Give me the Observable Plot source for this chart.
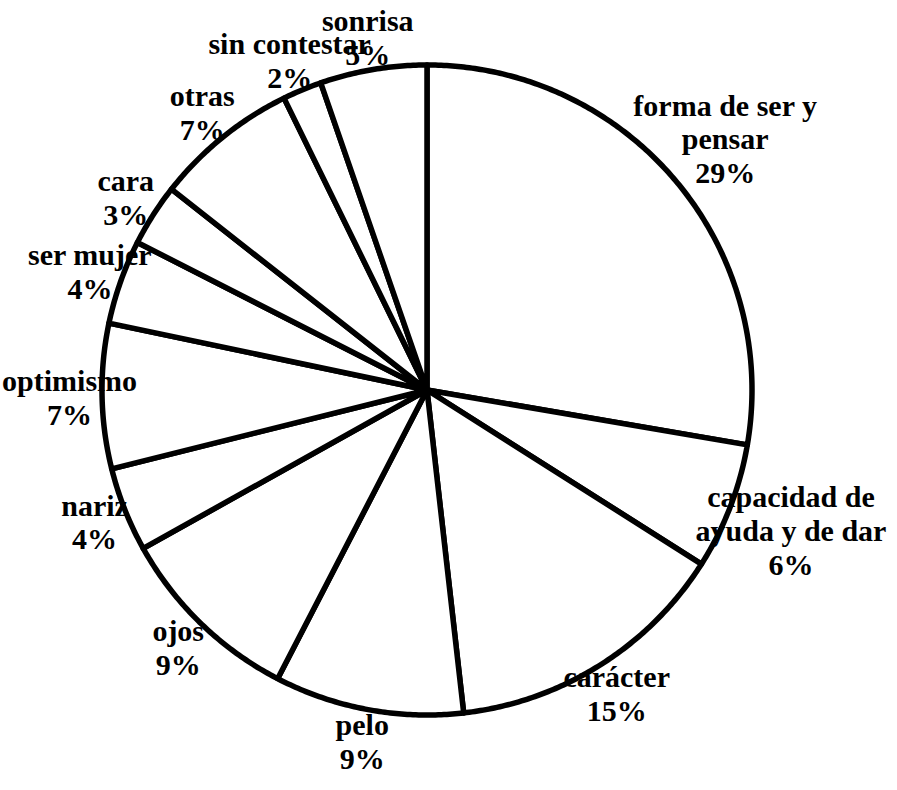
<!DOCTYPE html>
<html>
<head>
<meta charset="utf-8">
<script src="https://cdn.jsdelivr.net/npm/d3@7"></script>
<script src="https://cdn.jsdelivr.net/npm/@observablehq/plot@0.6"></script>
<style>
  html, body { margin: 0; padding: 0; background: #ffffff; }
</style>
</head>
<body>
<div id="chart"></div>
<script>
// Slices, clockwise from 12 o'clock
const categories = [
  "forma de ser y\npensar",
  "capacidad de\nayuda y de dar",
  "carácter",
  "pelo",
  "ojos",
  "nariz",
  "optimismo",
  "ser mujer",
  "cara",
  "otras",
  "sin contestar",
  "sonrisa"
];
// Shares as drawn
const shares = [27.7, 6.3, 14.2, 9.4, 9.3, 4.2, 7.2, 4.2, 3.1, 7.15, 1.95, 5.3];
// Percent labels as printed
const pctLabels = ["29%", "6%", "15%", "9%", "9%", "4%", "7%", "4%", "3%", "7%", "2%", "5%"];

const W = 897, H = 790;
const cx = 426.5, cy = 389.5, R = 325;

const arcs = d3.pie().sort(null).value(d => d)(shares);

// Slice outlines built from the pie angles (unit circle coordinates)
const outline = [];
arcs.forEach((a, i) => {
  const n = Math.max(2, Math.ceil((a.endAngle - a.startAngle) / (Math.PI / 360)));
  outline.push({slice: i, x: 0, y: 0});
  for (let k = 0; k <= n; k++) {
    const t = a.startAngle + (a.endAngle - a.startAngle) * k / n;
    outline.push({slice: i, x: Math.sin(t), y: Math.cos(t)});
  }
  outline.push({slice: i, x: 0, y: 0});
});

// Labels at the slice mid-angle, outside the rim
const labels = arcs.map((a, i) => {
  const text = categories[i] + "\n" + pctLabels[i];
  const lines = text.split("\n").length;
  const r = lines > 2 ? 1.2 : 1.1;
  const m = (a.startAngle + a.endAngle) / 2;
  return {x: r * Math.sin(m), y: r * Math.cos(m), text};
});

const chart = Plot.plot({
  width: W,
  height: H,
  marginLeft: cx - R,
  marginRight: W - (cx + R),
  marginTop: cy - R,
  marginBottom: H - (cy + R),
  style: {background: "#ffffff"},
  x: {domain: [-1, 1], axis: null},
  y: {domain: [-1, 1], axis: null},
  marks: [
    Plot.line(outline, {
      x: "x", y: "y", z: "slice",
      fill: "white", stroke: "black", strokeWidth: 5.5,
      strokeLinejoin: "round", strokeLinecap: "round"
    }),
    Plot.text(labels, {
      x: "x", y: "y", text: "text",
      fontSize: 30, fontFamily: "Liberation Serif", fontWeight: "bold",
      lineHeight: 1.13, fill: "black", textAnchor: "middle"
    })
  ]
});

document.getElementById("chart").appendChild(chart);
</script>
</body>
</html>
